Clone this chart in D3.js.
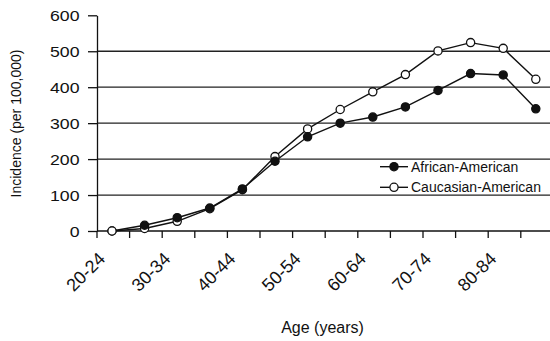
<!DOCTYPE html>
<html>
<head>
<meta charset="utf-8">
<script src="https://cdn.jsdelivr.net/npm/d3@7"></script>
<style>
  html, body { margin: 0; padding: 0; background: #fff; }
  svg { display: block; }
  text { font-family: "Liberation Sans", Arial, Helvetica, sans-serif; fill: #111; }
</style>
</head>
<body>
<svg id="chart" width="550" height="341"></svg>
<script>
const categories = ["20-24","25-29","30-34","35-39","40-44","45-49","50-54","55-59","60-64","65-69","70-74","75-79","80-84","85+"];
const tickLabels = ["20-24","30-34","40-44","50-54","60-64","70-74","80-84"];
const africanAmerican   = [0, 16, 37, 64, 117, 194, 262, 300, 317, 345, 391, 438, 434, 340];
const caucasianAmerican = [0,  7, 27, 62, 115, 207, 284, 338, 387, 435, 501, 524, 508, 422];
const yTicks = [0, 100, 200, 300, 400, 500, 600];
const seriesNames = ["African-American", "Caucasian-American"];
const xTitle = "Age (years)";
const yTitle = "Incidence (per 100,000)";

const W = 550, H = 341;
const svg = d3.select("#chart");
const ink = "#111";
const sx = 1.14;

const x = d3.scaleBand().domain(categories).range([97, 553.4]).paddingInner(0).paddingOuter(0);
const y = d3.scaleLinear().domain([0, 600]).range([231, 15.3]);
const px = c => x(c) + x.bandwidth() / 2 - 1.3;

// gridlines
svg.append("g").selectAll("line")
  .data(yTicks.filter(v => v > 0 && v < 600))
  .join("line")
  .attr("x1", 97).attr("x2", W)
  .attr("y1", d => y(d)).attr("y2", d => y(d))
  .attr("stroke", "#222").attr("stroke-width", 1.3);

// y axis
const yAxis = svg.append("g").attr("transform", "translate(97,0)")
  .call(d3.axisLeft(y).tickValues(yTicks).tickSize(9).tickSizeOuter(0).tickPadding(8).tickFormat(d3.format("d")));
yAxis.select(".domain").attr("stroke", ink).attr("stroke-width", 1.3);
yAxis.selectAll(".tick line").attr("stroke", ink).attr("stroke-width", 1.3);
yAxis.selectAll(".tick text")
  .attr("x", 0).attr("dy", "0.36em")
  .attr("transform", `translate(-17.5,0) scale(${sx},1)`)
  .style("font-size", "15.5px").attr("fill", ink);

// x axis (baseline + boundary ticks + rotated labels)
svg.append("line").attr("x1", 97).attr("x2", W).attr("y1", y(0)).attr("y2", y(0))
  .attr("stroke", ink).attr("stroke-width", 1.3);
svg.append("g").selectAll("line")
  .data(categories)
  .join("line")
  .attr("x1", d => x(d)).attr("x2", d => x(d))
  .attr("y1", y(0)).attr("y2", y(0) + 7)
  .attr("stroke", ink).attr("stroke-width", 1.3);

const xAxis = svg.append("g").attr("transform", `translate(0,${y(0)})`)
  .call(d3.axisBottom(x).tickSize(0).tickValues(tickLabels).tickFormat(d => d));
xAxis.select(".domain").remove();
xAxis.selectAll(".tick text")
  .attr("x", 0).attr("y", 0).attr("dy", 0)
  .attr("text-anchor", "end")
  .attr("transform", "translate(-7,29) rotate(-45)")
  .style("font-size", "18px").attr("fill", ink);

// axis titles
svg.append("text").attr("x", 322.5).attr("y", 333).attr("text-anchor", "middle")
  .style("font-size", "16px").text(xTitle);
svg.append("text").attr("transform", "translate(21,123.5) rotate(-90)").attr("text-anchor", "middle")
  .style("font-size", "14px").text(yTitle);

// lines
const series = [
  { name: seriesNames[1], values: caucasianAmerican, fill: "#fff" },
  { name: seriesNames[0], values: africanAmerican, fill: ink }
];
const line = d3.line().x((d, i) => px(categories[i])).y(d => y(d));
svg.append("g").selectAll("path")
  .data(series)
  .join("path")
  .attr("d", s => line(s.values))
  .attr("fill", "none").attr("stroke", ink).attr("stroke-width", 1.4);

// markers (filled drawn above open, except the first age group)
const pts = [];
series.forEach((s, si) => s.values.forEach((v, i) => {
  const z = (s.fill === ink && i > 0) ? 2 : (s.fill === ink ? 0 : 1);
  pts.push({ v, i, fill: s.fill, z });
}));
pts.sort((a, b) => a.z - b.z);
svg.append("g").selectAll("circle")
  .data(pts)
  .join("circle")
  .attr("cx", d => px(categories[d.i])).attr("cy", d => y(d.v))
  .attr("r", 4.1)
  .attr("fill", d => d.fill).attr("stroke", ink).attr("stroke-width", 1.3);

// legend
const legendRows = [
  { name: seriesNames[0], fill: ink, yy: 166.7 },
  { name: seriesNames[1], fill: "#fff", yy: 187.3 }
];
const lg = svg.append("g").selectAll("g").data(legendRows).join("g");
lg.append("line").attr("x1", 380).attr("x2", 408).attr("y1", d => d.yy).attr("y2", d => d.yy)
  .attr("stroke", ink).attr("stroke-width", 1.4);
lg.append("circle").attr("cx", 394).attr("cy", d => d.yy).attr("r", 4.1)
  .attr("fill", d => d.fill).attr("stroke", ink).attr("stroke-width", 1.3);
lg.append("text").attr("x", 411).attr("y", d => d.yy).attr("dy", "0.36em")
  .style("font-size", "14px").text(d => d.name);
</script>
</body>
</html>
